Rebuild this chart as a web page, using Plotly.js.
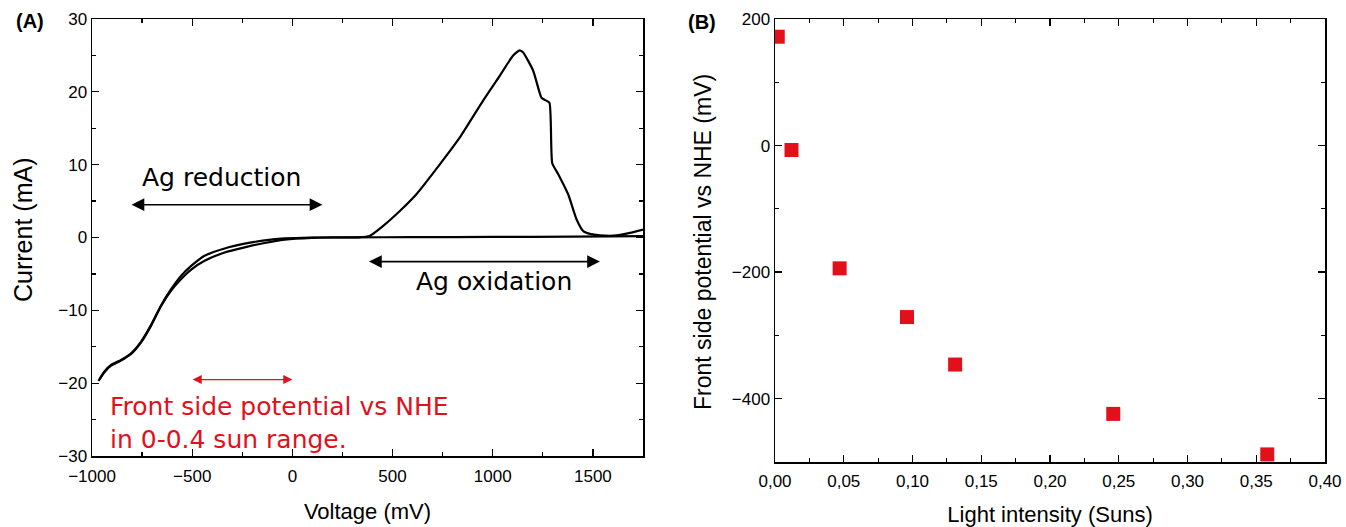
<!DOCTYPE html>
<html>
<head>
<meta charset="utf-8">
<script src="https://cdn.plot.ly/plotly-3.0.1.min.js"></script>
<style>
  html, body { margin: 0; padding: 0; background: #fff; }
  #chart { width: 1346px; height: 527px; }
</style>
</head>
<body>
<div id="chart"></div>
<script>
// Panel A: cyclic voltammogram (forward sweep incl. oxidation peak, reverse sweep)
const forwardVoltage = [-968,-938,-905,-855,-805,-755,-705,-655,-605,-555,-505,-438,-338,-238,-138,-38,95,200,330,385,452,535,618,735,835,952,1035,1102,1135,1152,1202,1243,1260,1283,1297,1327,1377,1418,1452,1485,1535,1618,1685,1750];
const forwardCurrent = [-19.7,-18.5,-17.6,-16.9,-16.0,-14.4,-12.1,-9.4,-7.3,-5.7,-4.4,-3.2,-2.05,-1.35,-0.75,-0.3,-0.05,0,0.02,0.2,1.56,3.6,5.9,10.0,13.7,18.8,22.2,25.0,25.7,25.4,22.9,19.2,18.9,18.5,10.2,8.7,5.9,2.5,0.87,0.5,0.3,0.28,0.64,1.1];
const reverseVoltage = [1750,1400,1000,600,300,95,-38,-138,-238,-338,-438,-505,-555,-605,-655,-705,-755,-805,-855,-905,-938,-962];
const reverseCurrent = [0.2,0.12,0.08,0.05,0.02,0,-0.12,-0.4,-0.85,-1.5,-2.5,-3.9,-5.25,-7.1,-9.3,-12.0,-14.3,-15.9,-16.8,-17.5,-18.4,-19.4];

// Panel B: front side potential vs light intensity
const lightIntensity = [0.002, 0.012, 0.047, 0.096, 0.131, 0.246, 0.358];
const frontPotential = [172, -7, -194, -271, -346, -424, -488];

// Tick labels / texts
const panelLabels = ['(A)', '(B)'];
const annotationTexts = ['Ag reduction', 'Ag oxidation', 'Front side potential vs NHE<br>in 0-0.4 sun range.'];
const axisTitles = ['Voltage (mV)', 'Current (mA)', 'Light intensity (Suns)', 'Front side potential vs NHE (mV)'];

const W = 1346, H = 527;
const sans = 'Liberation Sans, Arial, sans-serif';
const tickFont = {family: sans, size: 17, color: '#000'};
const annFont = {family: 'DejaVu Sans, sans-serif', size: 25, color: '#000'};
const red = '#e2101a';

function axisBase(extra) {
  return Object.assign({
    showline: true, linecolor: '#000', linewidth: 1.5, mirror: 'ticks',
    ticks: 'inside', ticklen: 7, tickwidth: 1.3, tickcolor: '#000',
    showgrid: false, zeroline: false, tickfont: tickFont
  }, extra);
}
function minorTicks(d) {
  return {dtick: d, ticks: 'inside', ticklen: 4, tickwidth: 1.2, tickcolor: '#000', showgrid: false};
}

const data = [
  {x: forwardVoltage, y: forwardCurrent, type: 'scatter', mode: 'lines',
   line: {color: '#000', width: 2.2, shape: 'spline', smoothing: 0.5}, xaxis: 'x', yaxis: 'y', showlegend: false, hoverinfo: 'none'},
  {x: reverseVoltage, y: reverseCurrent, type: 'scatter', mode: 'lines',
   line: {color: '#000', width: 2.2, shape: 'spline', smoothing: 0.5}, xaxis: 'x', yaxis: 'y', showlegend: false, hoverinfo: 'none'},
  {x: lightIntensity, y: frontPotential, type: 'scatter', mode: 'markers',
   marker: {symbol: 'square', size: 14, color: red}, xaxis: 'x2', yaxis: 'y2', showlegend: false, hoverinfo: 'none'}
];

function arrow(x0, x1, y, color, w, s) {
  return {x: x1, y: y, ax: x0, ay: y, xref: 'x', yref: 'y', axref: 'x', ayref: 'y',
    text: '', showarrow: true, arrowside: 'end+start', arrowhead: 2, arrowsize: s,
    arrowwidth: w, arrowcolor: color};
}

const layout = {
  width: W, height: H,
  margin: {l: 0, r: 0, t: 0, b: 0},
  paper_bgcolor: '#fff', plot_bgcolor: '#fff',
  separators: ', ',
  xaxis: axisBase({domain: [92/W, 643/W], range: [-1000, 1750], dtick: 500, tick0: 0,
    minor: minorTicks(250), anchor: 'y', ticklabelstandoff: 4,
    title: {text: axisTitles[0], font: {family: sans, size: 22, color: '#000'}, standoff: 18}}),
  yaxis: axisBase({domain: [1 - 456/H, 1 - 19/H], range: [-30, 30], dtick: 10,
    minor: minorTicks(5), anchor: 'x'}),
  xaxis2: axisBase({domain: [775/W, 1325/W], range: [0, 0.40], dtick: 0.05, tick0: 0, tickformat: '.2f',
    minor: minorTicks(0.025), anchor: 'y2', ticklabelstandoff: 3,
    title: {text: axisTitles[2], font: {family: sans, size: 22, color: '#000'}, standoff: 24}}),
  yaxis2: axisBase({domain: [1 - 462/H, 1 - 19/H], range: [-500, 200], dtick: 200, tick0: 0,
    minor: minorTicks(100), anchor: 'x2'}),
  annotations: [
    {xref: 'paper', yref: 'paper', x: 30/W, y: 1 - 21/H, text: '<b>' + panelLabels[0] + '</b>', showarrow: false,
     font: {family: sans, size: 20, color: '#000'}, xanchor: 'center', yanchor: 'middle'},
    {xref: 'paper', yref: 'paper', x: 702/W, y: 1 - 22/H, text: '<b>' + panelLabels[1] + '</b>', showarrow: false,
     font: {family: sans, size: 20, color: '#000'}, xanchor: 'center', yanchor: 'middle'},
    {xref: 'paper', yref: 'paper', x: 23/W, y: 1 - 230/H, text: axisTitles[1], textangle: -90, showarrow: false,
     font: {family: sans, size: 25, color: '#000'}, xanchor: 'center', yanchor: 'middle'},
    {xref: 'paper', yref: 'paper', x: 703/W, y: 1 - 242/H, text: axisTitles[3], textangle: -90, showarrow: false,
     font: {family: sans, size: 23, color: '#000'}, xanchor: 'center', yanchor: 'middle'},
    {xref: 'x', yref: 'y', x: -352, y: 8.3, text: annotationTexts[0], showarrow: false, font: annFont, xanchor: 'center', yanchor: 'middle'},
    {xref: 'x', yref: 'y', x: 1008, y: -6.1, text: annotationTexts[1], showarrow: false, font: annFont, xanchor: 'center', yanchor: 'middle'},
    {xref: 'x', yref: 'y', x: -918, y: -25.5, text: annotationTexts[2], showarrow: false,
     font: {family: 'DejaVu Sans, sans-serif', size: 25, color: red}, xanchor: 'left', yanchor: 'middle', align: 'left'},
    arrow(-810, 150, 4.5, '#000', 1.7, 1.5),
    arrow(375, 1535, -3.3, '#000', 1.7, 1.5),
    arrow(-505, 0, -19.5, red, 1.3, 1.4)
  ]
};

Plotly.newPlot('chart', data, layout, {staticPlot: true, displayModeBar: false});
</script>
</body>
</html>
